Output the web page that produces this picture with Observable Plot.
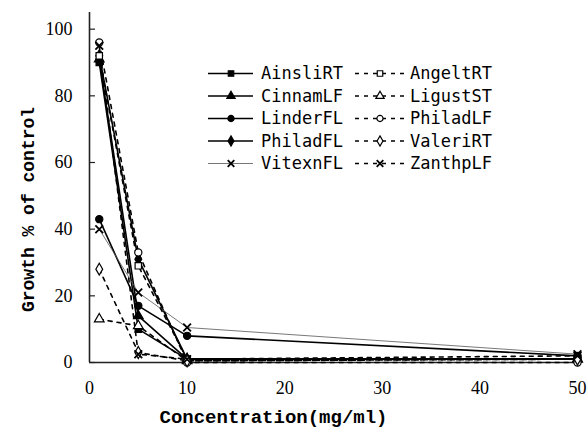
<!DOCTYPE html>
<html><head><meta charset="utf-8">
<script src="https://cdn.jsdelivr.net/npm/d3@7"></script>
<script src="https://cdn.jsdelivr.net/npm/@observablehq/plot@0.6"></script>
<style>body{margin:0;background:#fff}</style>
</head><body><div id="chart"></div>
<script>
// ---- data ----
const concentrations = [1, 5, 10, 50];
const seriesNames = ["AinsliRT","CinnamLF","LinderFL","PhiladFL","VitexnFL","AngeltRT","LigustST","PhiladLF","ValeriRT","ZanthpLF"];
const AinsliRT = [90, 10, 1, 1];
const CinnamLF = [91, 14, 1, 1];
const LinderFL = [43, 17, 8, 2];
const PhiladFL = [92, 31, 1, 1];
const VitexnFL = [40, 21, 10.5, 2.5];
const AngeltRT = [92, 29, 1, 1];
const LigustST = [13, 11, 0.5, 1];
const PhiladLF = [96, 33, 0, 0];
const ValeriRT = [28, 3, 0.5, 1];
const ZanthpLF = [95, 2.5, 1, 2];
const seriesValues = [AinsliRT, CinnamLF, LinderFL, PhiladFL, VitexnFL, AngeltRT, LigustST, PhiladLF, ValeriRT, ZanthpLF];
const xTicks = [0, 10, 20, 30, 40, 50];
const yTicks = [0, 20, 40, 60, 80, 100];
const xLabel = "Concentration(mg/ml)";
const yLabel = "Growth % of control";

// ---- styles ----
const symbols = ["square","triangle","circle","diamond","times","square","triangle","circle","diamond","times"];
const dashed = [false,false,false,false,false,true,true,true,true,true];
const filled = [true,true,true,true,true,false,false,false,false,false];

const rows = seriesNames.flatMap((s, i) => concentrations.map((c, j) => ({series: s, x: c, y: seriesValues[i][j]})));

const marks = [
  Plot.ruleX([0], {stroke: "#222", strokeWidth: 1.6}),
  Plot.ruleY([0], {stroke: "#222", strokeWidth: 1.6}),
  Plot.axisY(yTicks, {tickSize: 6, dx: 6, text: null, label: null, stroke: "#222", strokeWidth: 1.2}),
  Plot.axisY(yTicks, {tickSize: 0, tickPadding: 17, fontSize: 18, fontFamily: "Liberation Serif", label: null}),
  Plot.axisX(xTicks, {tickSize: 0, tickPadding: 19, fontSize: 18, fontFamily: "Liberation Serif", label: null}),
];
seriesNames.forEach((s, i) => {
  const data = rows.filter(d => d.series === s);
  const thin = s === "VitexnFL";
  marks.push(Plot.line(data, {x: "x", y: "y", stroke: thin ? "#555" : "black",
    strokeWidth: thin ? 0.8 : 1.6, strokeDasharray: dashed[i] ? "4,5" : null}));
});
seriesNames.forEach((s, i) => {
  const data = rows.filter(d => d.series === s);
  const isX = symbols[i] === "times";
  marks.push(Plot.dot(data, {x: "x", y: "y", symbol: symbols[i], r: 3.6,
    fill: isX ? "none" : (filled[i] ? "black" : "white"),
    stroke: "black", strokeWidth: isX ? 1.8 : 1.2}));
});
marks.push(Plot.text([xLabel], {frameAnchor: "bottom", textAnchor: "middle", lineAnchor: "middle", dx: -60, dy: 54,
  fontSize: 19, fontFamily: "Liberation Mono", fontWeight: "bold", letterSpacing: 1.6}));
marks.push(Plot.text([yLabel], {frameAnchor: "left", textAnchor: "middle", lineAnchor: "middle", rotate: -90, dx: -61, dy: 22,
  fontSize: 18, fontFamily: "Liberation Mono", fontWeight: "bold", letterSpacing: 1.6}));

const plot = Plot.plot({
  width: 588, height: 429,
  marginLeft: 89, marginRight: 11, marginTop: 12, marginBottom: 67,
  x: {domain: [0, 50]},
  y: {domain: [0, 105]},
  style: {background: "white", color: "black"},
  marks
});
document.getElementById("chart").appendChild(plot);

// ---- legend ----
const svg = d3.select(plot);
const lg = svg.append("g").attr("text-anchor", "start");
const symMap = {square: d3.symbolSquare, triangle: d3.symbolTriangle, circle: d3.symbolCircle, diamond: d3.symbolDiamond, times: d3.symbolTimes};
const cols = [{x1: 208, x2: 253, m: 231, t: 261}, {x1: 355, x2: 405, m: 380, t: 410}];
seriesNames.forEach((s, i) => {
  const c = cols[i < 5 ? 0 : 1];
  const yy = 73.5 + (i % 5) * 22.5;
  const thin = s === "VitexnFL";
  lg.append("line").attr("x1", c.x1).attr("x2", c.x2).attr("y1", yy).attr("y2", yy)
    .attr("stroke", thin ? "#555" : "black").attr("stroke-width", thin ? 0.8 : 1.6)
    .attr("stroke-dasharray", dashed[i] ? "4,5" : null);
  const isX = symbols[i] === "times";
  lg.append("path").attr("d", d3.symbol(symMap[symbols[i]], 30)())
    .attr("transform", `translate(${c.m},${yy})`)
    .attr("fill", isX ? "none" : (filled[i] ? "black" : "white"))
    .attr("stroke", "black").attr("stroke-width", isX ? 1.8 : 1.2);
  lg.append("text").attr("x", c.t).attr("y", yy).attr("dy", "0.35em").attr("text-anchor", "start")
    .attr("font-family", "DejaVu Sans Mono").attr("font-size", 17).attr("fill", "black").text(s);
});
</script>
</body></html>
